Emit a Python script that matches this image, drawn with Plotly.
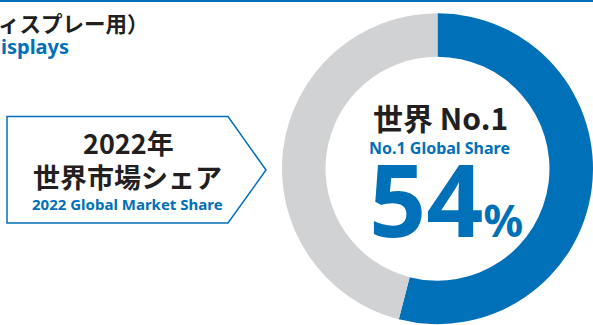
import plotly.graph_objects as go

W, H = 593, 325

# Market share data
segments = ["Share", "Other"]
share_values = [54, 46]
segment_colors = ["#0070b8", "#d1d2d4"]

BLUE = "#0070b8"
DARK = "#231f20"
JP = "Noto Sans CJK JP"
LATIN = "Noto Sans"


def px(x):
    return x / W


def py(y):
    return 1 - y / H


fig = go.Figure()

fig.add_trace(go.Pie(
    labels=segments,
    values=share_values,
    marker=dict(colors=segment_colors, line=dict(width=0)),
    hole=0.72,
    sort=False,
    direction="clockwise",
    rotation=0,
    textinfo="none",
    hoverinfo="label+percent",
    showlegend=False,
    domain=dict(x=[0.4755, 1.0], y=[0.0, 0.962]),
))

annotations = []


def note(text, x, y, size, color, family=LATIN, xanchor="center", yanchor="middle"):
    annotations.append(dict(
        text=text, x=px(x), y=py(y), xref="paper", yref="paper",
        xanchor=xanchor, yanchor=yanchor, showarrow=False,
        font=dict(family=family, size=size, color=color, weight="bold"),
    ))


# Heading along the top-left edge
note("ィスプレー用）", -4, 22, 21.5, DARK, family=JP, xanchor="left")
note("isplays", -1, 47, 20, BLUE, xanchor="left")

# Arrow-shaped label box
note("2022年", 128, 143, 27, DARK, family=JP)
note("世界市場シェア", 127, 176, 27, DARK, family=JP)
note("2022 Global Market Share", 127.5, 204, 15, BLUE)

# Donut centre
note("世界 No.1", 440, 117, 30, DARK, family=JP)
note("No.1 Global Share", 439, 148, 16, BLUE)
note(f"{share_values[0]}<span style='font-size:44px'>%</span>", 446, 198, 100, BLUE)

fig.update_layout(
    width=W, height=H,
    margin=dict(l=0, r=0, t=0, b=0),
    paper_bgcolor="white",
    plot_bgcolor="white",
    annotations=annotations,
    shapes=[
        dict(type="rect", xref="paper", yref="paper",
             x0=0, x1=1, y0=py(2), y1=1,
             fillcolor=BLUE, line=dict(width=0), layer="above"),
        dict(type="path", xref="paper", yref="paper",
             path=(f"M {px(7)},{py(116.5)} L {px(228)},{py(116.5)} "
                   f"L {px(266)},{py(170)} L {px(228)},{py(223)} "
                   f"L {px(7)},{py(223)} Z"),
             line=dict(color=BLUE, width=1.5), fillcolor="rgba(0,0,0,0)"),
    ],
)

fig.write_html("out.html")
